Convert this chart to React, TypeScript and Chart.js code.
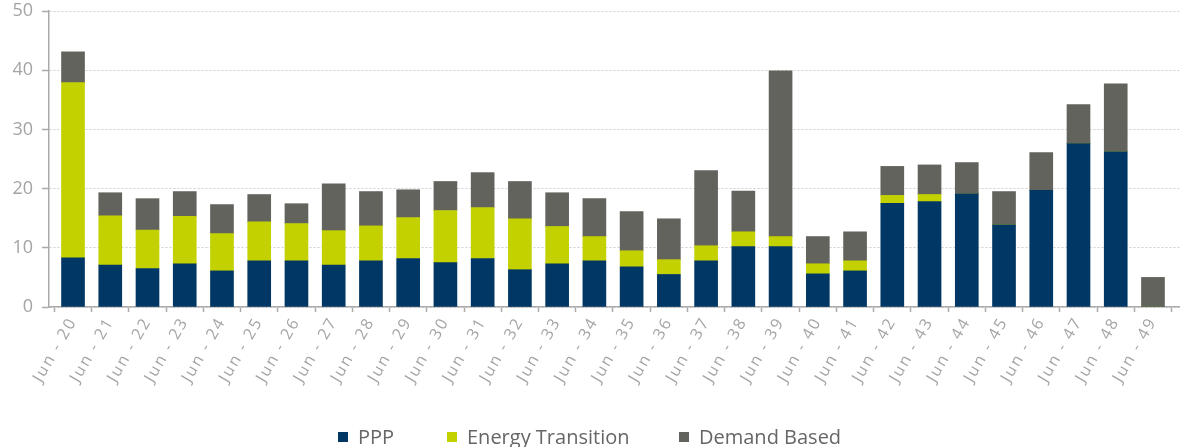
import React, { useEffect, useRef } from "react";
import { Chart, registerables } from "chart.js";

Chart.register(...registerables);

const categories = [
  "Jun - 20", "Jun - 21", "Jun - 22", "Jun - 23", "Jun - 24", "Jun - 25", "Jun - 26", "Jun - 27",
  "Jun - 28", "Jun - 29", "Jun - 30", "Jun - 31", "Jun - 32", "Jun - 33", "Jun - 34", "Jun - 35",
  "Jun - 36", "Jun - 37", "Jun - 38", "Jun - 39", "Jun - 40", "Jun - 41", "Jun - 42", "Jun - 43",
  "Jun - 44", "Jun - 45", "Jun - 46", "Jun - 47", "Jun - 48", "Jun - 49",
];

const ppp = [
  8.3, 7.1, 6.5, 7.3, 6.1, 7.8, 7.8, 7.1, 7.8, 8.2, 7.5, 8.2, 6.3, 7.3, 7.8, 6.8,
  5.5, 7.8, 10.2, 10.2, 5.6, 6.1, 17.5, 17.8, 19.1, 13.9, 19.7, 27.6, 26.2, 0,
];

const energyTransition = [
  29.6, 8.3, 6.5, 8.0, 6.3, 6.6, 6.3, 5.8, 5.9, 6.9, 8.8, 8.6, 8.6, 6.3, 4.1, 2.7,
  2.5, 2.55, 2.5, 1.7, 1.7, 1.7, 1.35, 1.2, 0, 0, 0, 0, 0, 0,
];

const demandBased = [
  5.2, 3.9, 5.3, 4.2, 4.9, 4.6, 3.35, 7.9, 5.8, 4.7, 4.9, 5.9, 6.3, 5.7, 6.4, 6.6,
  6.9, 12.7, 6.9, 28.0, 4.6, 4.9, 4.9, 5.0, 5.3, 5.6, 6.4, 6.6, 11.5, 5.0,
];

const yTicks = [0, 10, 20, 30, 40, 50];

const seriesColors = ["#003764", "#c3d100", "#62635d"];

const FONT = "'Open Sans', 'DejaVu Sans', sans-serif";
const AXIS_GRAY = "#ababab";
const LABEL_GRAY = "#a4a4a4";

// Legend drawn on the canvas (Chart.js legend ties item gap to vertical padding)
const LEGEND_X = [338, 447, 679];
const LEGEND_Y = 437;

const legendPlugin = {
  id: "bottomLegend",
  afterDraw(chart: any) {
    const ctx = chart.ctx as CanvasRenderingContext2D;
    ctx.save();
    ctx.font = `500 20px ${FONT}`;
    ctx.textBaseline = "middle";
    ctx.textAlign = "left";
    chart.data.datasets.forEach((ds: any, i: number) => {
      const x = LEGEND_X[i];
      ctx.fillStyle = ds.backgroundColor;
      ctx.fillRect(x, LEGEND_Y - 5, 10, 10);
      ctx.fillStyle = "#666666";
      ctx.fillText(ds.label, x + 20, LEGEND_Y + 1);
    });
    ctx.restore();
  },
};

// Category band inset slightly from the y axis line, as in the source;
// x tick labels drawn with wider letter spacing.
const insetPlugin = {
  id: "categoryInset",
  afterLayout(chart: any) {
    const xs = chart.scales.x;
    if (!xs) return;
    const start = xs.left + 5.4;
    const end = 1171.6;
    xs._startPixel = start;
    xs._endPixel = end;
    xs._length = end - start;
    if (!xs.__wrapped) {
      const orig = xs.drawLabels;
      xs.drawLabels = function (area: any) {
        const c = chart.ctx as any;
        c.save();
        c.letterSpacing = "2px";
        orig.call(this, area);
        c.restore();
      };
      xs.__wrapped = true;
    }
  },
};

export default function App() {
  const canvasRef = useRef<HTMLCanvasElement | null>(null);

  useEffect(() => {
    const canvas = canvasRef.current;
    if (!canvas) return;
    const chart = new Chart(canvas, {
      type: "bar",
      data: {
        labels: categories,
        datasets: [
          { label: "PPP", data: ppp, backgroundColor: seriesColors[0], barThickness: 23 },
          { label: "Energy Transition", data: energyTransition, backgroundColor: seriesColors[1], barThickness: 23 },
          { label: "Demand Based", data: demandBased, backgroundColor: seriesColors[2], barThickness: 23 },
        ],
      },
      plugins: [legendPlugin, insetPlugin],
      options: {
        animation: false,
        responsive: false,
        maintainAspectRatio: false,
        layout: { padding: { top: 11, right: 0, left: 0, bottom: 0 } },
        plugins: {
          tooltip: { enabled: false },
          legend: { display: false },
        },
        scales: {
          x: {
            stacked: true,
            afterFit: (axis: any) => {
              axis.height = 140;
              axis.paddingLeft = 0;
              axis.paddingRight = 0;
            },
            grid: {
              drawOnChartArea: false,
              drawTicks: true,
              tickLength: 5,
              tickColor: AXIS_GRAY,
              tickWidth: 1.5,
              offset: true,
            },
            border: { display: true, color: AXIS_GRAY, width: 1.5 },
            ticks: {
              color: LABEL_GRAY,
              font: { family: FONT, size: 16 },
              maxRotation: 60,
              minRotation: 60,
              autoSkip: false,
              padding: 2,
            },
          },
          y: {
            stacked: true,
            min: 0,
            max: 50,
            afterFit: (axis: any) => {
              axis.width = 49;
              axis.paddingTop = 0;
              axis.paddingBottom = 0;
            },
            afterBuildTicks: (axis: any) => {
              axis.ticks = yTicks.map((v) => ({ value: v }));
            },
            grid: {
              color: "#cfcfcf",
              tickColor: AXIS_GRAY,
              tickBorderDash: [],
              tickWidth: 1.5,
              tickLength: 7,
              lineWidth: 1,
            },
            border: { display: true, color: AXIS_GRAY, width: 1.5, dash: [2, 2] },
            ticks: {
              color: LABEL_GRAY,
              font: { family: FONT, size: 18 },
              padding: 9,
            },
          },
        },
      },
    });
    return () => chart.destroy();
  }, []);

  return (
    <div style={{ position: "fixed", left: 0, top: 0, width: 1180, height: 447, background: "#fff" }}>
      <canvas ref={canvasRef} width={1180} height={447} style={{ width: 1180, height: 447 }} />
    </div>
  );
}
